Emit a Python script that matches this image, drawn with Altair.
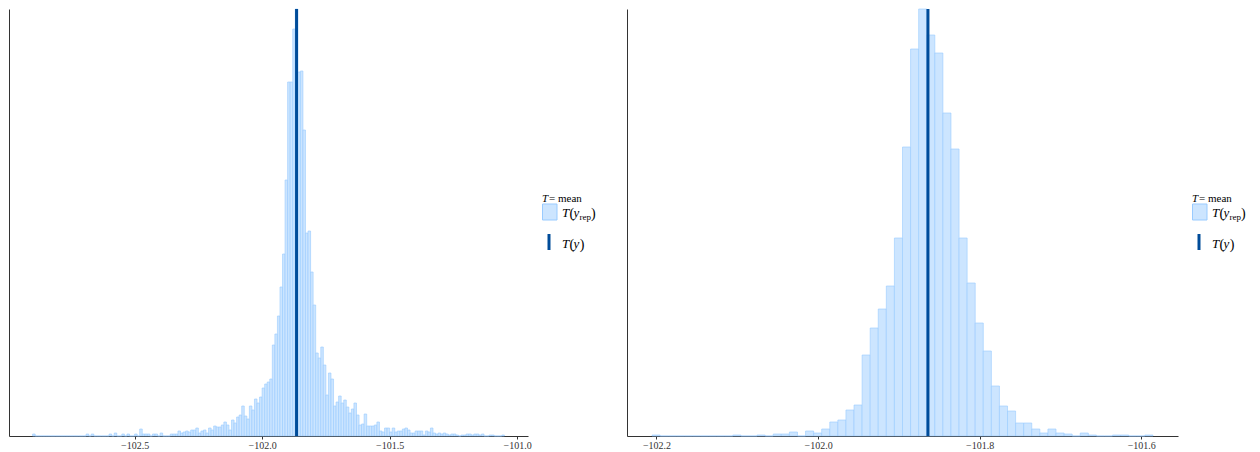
import altair as alt
import pandas as pd

# Histogram bin width shared by both panels
bin_width = 0.01

# Left panel: per-bin counts of T(y_rep), bins start at left_first_edge
left_first_edge = -102.90
left_counts = [
    2, 0, 0, 0, 0, 0, 0, 0, 0, 0,
    0, 0, 0, 0, 0, 0, 0, 0, 0, 0,
    0, 2, 0, 2, 0, 0, 0, 0, 0, 0,
    2, 0, 3, 0, 0, 2, 0, 2, 0, 0,
    2, 0, 7, 2, 2, 2, 0, 2, 2, 0,
    3, 0, 0, 0, 2, 2, 2, 5, 3, 4,
    5, 4, 6, 6, 8, 3, 5, 6, 3, 8,
    6, 10, 9, 9, 11, 14, 11, 6, 16, 13,
    19, 21, 30, 20, 17, 30, 26, 37, 33, 39,
    48, 52, 54, 57, 91, 102, 120, 149, 182, 256,
    354, 354, 407, 427, 364, 365, 306, 203, 205, 164,
    131, 83, 78, 89, 71, 41, 63, 57, 30, 34,
    40, 33, 36, 29, 23, 27, 33, 21, 11, 12,
    22, 10, 10, 10, 11, 14, 5, 4, 8, 8,
    4, 8, 4, 5, 5, 7, 8, 6, 3, 3,
    5, 5, 5, 1, 5, 4, 8, 3, 2, 3,
    2, 3, 2, 1, 2, 2, 1, 0, 1, 1,
    2, 2, 1, 2, 2, 1, 2, 0, 0, 1,
    1, 0, 0, 0, 1,
]
left_ty = -101.865
left_ticks = [-102.5, -102.0, -101.5, -101.0]

# Right panel
right_first_edge = -102.2055
right_counts = [
    1, 0, 0, 0, 0, 0, 0, 0, 0, 0,
    1, 0, 0, 1, 0, 2, 2, 4, 0, 5,
    3, 7, 14, 16, 26, 31, 81, 108, 127, 150,
    198, 289, 387, 427, 401, 383, 323, 287, 198, 153,
    113, 85, 50, 30, 25, 13, 13, 7, 3, 7,
    3, 2, 0, 3, 1, 0, 0, 1, 1, 0,
    0, 1,
]
right_ty = -101.864
right_ticks = [-102.2, -102.0, -101.8, -101.6]

# bayesplot "brightblue" scheme
LIGHT = "#cce5ff"
LIGHT_HI = "#99cbff"
DARK_HI = "#004c99"
AXIS = "#333333"
SERIF = "'Liberation Serif', 'Times New Roman', 'DejaVu Serif', serif"
PLOT_H = 427


def bins_frame(first_edge, counts):
    starts = [round(first_edge + i * bin_width, 4) for i in range(len(counts))]
    return pd.DataFrame({
        "start": starts,
        "end": [round(s + bin_width, 4) for s in starts],
        "count": counts,
        "base": [0] * len(counts),
    })


def legend_layers(width):
    """Manual legend: 'T = mean', T(y_rep) swatch, T(y) line."""
    one = pd.DataFrame({"k": [0]})
    L = width + 14
    layers = []

    def txt(s, x, y, size, italic=False):
        return alt.Chart(one).mark_text(
            align="left", baseline="alphabetic", font=SERIF, fontSize=size,
            fontStyle="italic" if italic else "normal", color="#000000",
        ).encode(x=alt.value(x), y=alt.value(y), text=alt.value(s))

    layers.append(txt("T", L, 193, 11, True))
    layers.append(txt("= mean", L + 7, 193, 11))
    layers.append(alt.Chart(one).mark_rect(fill=LIGHT, stroke=LIGHT_HI, strokeWidth=1).encode(
        x=alt.value(L + 0.5), x2=alt.value(L + 15), y=alt.value(195), y2=alt.value(211)))
    layers.append(txt("T", L + 20, 208, 13, True))
    layers.append(txt("(", L + 27.5, 209, 14))
    layers.append(txt("y", L + 31.5, 208, 13, True))
    layers.append(txt("rep", L + 37.5, 210.5, 9))
    layers.append(txt(")", L + 49, 209, 14))
    layers.append(alt.Chart(one).mark_rule(color=DARK_HI, strokeWidth=3).encode(
        x=alt.value(L + 7), y=alt.value(225), y2=alt.value(241)))
    layers.append(txt("T", L + 20, 238.5, 13, True))
    layers.append(txt("(", L + 27.5, 239.5, 14))
    layers.append(txt("y", L + 31.5, 238.5, 13, True))
    layers.append(txt(")", L + 37.8, 239.5, 14))
    return layers


def panel(first_edge, counts, ty, ticks, width):
    df = bins_frame(first_edge, counts)
    lo, hi = df["start"].min(), df["end"].max()
    pad = 0.05 * (hi - lo)
    xscale = alt.Scale(domain=[lo - pad, hi + pad], nice=False, zero=False)
    yscale = alt.Scale(domain=[0, max(counts)], nice=False, zero=True)

    bars = alt.Chart(df).mark_rect(fill=LIGHT, stroke=LIGHT_HI, strokeWidth=0.6).encode(
        x=alt.X("start:Q", scale=xscale,
                axis=alt.Axis(values=ticks, format=".1f", title=None, grid=False)),
        x2="end:Q",
        y=alt.Y("count:Q", scale=yscale,
                axis=alt.Axis(title=None, labels=False, ticks=False, grid=False)),
        y2="base:Q",
    )
    line = alt.Chart(pd.DataFrame({"ty": [ty]})).mark_rule(
        color=DARK_HI, strokeWidth=3).encode(x="ty:Q")

    return alt.layer(bars, line, *legend_layers(width)).properties(
        width=width, height=PLOT_H)


left = panel(left_first_edge, left_counts, left_ty, left_ticks, 519)
right = panel(right_first_edge, right_counts, right_ty, right_ticks, 551)

chart = alt.hconcat(left, right, spacing=99, bounds="flush").properties(
    padding={"left": 9, "top": 7, "right": 0, "bottom": 0},
    background="white",
).configure_view(stroke=None).configure_axis(
    domainColor=AXIS, domainWidth=1, tickColor=AXIS, tickSize=3,
    labelFont=SERIF, labelFontSize=10, labelColor=AXIS, labelPadding=1,
)

chart.save("out.html", embed_options={"renderer": "svg", "actions": False})
